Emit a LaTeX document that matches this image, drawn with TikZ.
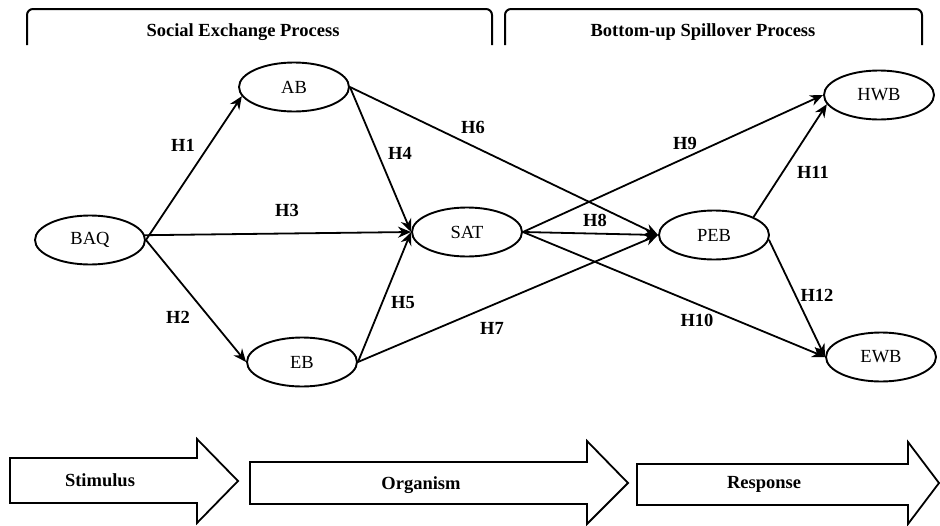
\documentclass[tikz,border=0pt]{standalone}
\usepackage{fontspec}
\setmainfont{Liberation Serif}
\usetikzlibrary{shapes.geometric,arrows.meta,calc}
\begin{document}
\begin{tikzpicture}[x=1pt,y=-1pt,
  var/.style={ellipse,draw,line width=1.9pt,minimum width=110pt,minimum height=49pt,inner sep=0pt,font=\fontsize{18.5}{20}\selectfont},
  hyp/.style={font=\bfseries\fontsize{18.5}{20}\selectfont,inner sep=0pt},
  ttl/.style={font=\bfseries\fontsize{18.5}{20}\selectfont,inner sep=0pt},
  link/.style={line width=1.8pt,-{Stealth[length=13pt,width=11pt]}},
  brk/.style={line width=2pt,rounded corners=6pt},
  bigarrow/.style={line width=1.8pt,fill=white}]
\useasboundingbox (0,0) rectangle (940,525);

% brackets
\draw[brk] (27,45) -- (27,9) -- (492,9) -- (492,45);
\draw[brk] (505,45) -- (505,9) -- (922,9) -- (922,45);
\node[ttl] (sep) at (243,32) {Social Exchange Process};
\node[ttl] (bsp) at (703,32) {Bottom-up Spillover Process};

% variables
\node[var] (BAQ) at (90,240) {BAQ};
\node[var] (AB) at (294,87) {AB};
\node[var] (EB) at (302,362) {EB};
\node[var] (SAT) at (467,232) {SAT};
\node[var] (PEB) at (714,235) {PEB};
\node[var] (HWB) at (879,95) {HWB};
\node[var] (EWB) at (881,357) {EWB};

% connectors
\draw[link] (BAQ.east) -- (AB.190);
\draw[link] (BAQ.5) -- (SAT.west);
\draw[link] (BAQ.east) -- (EB.west);
\draw[link] (AB.east) -- (SAT.west);
\draw[link] (EB.east) -- (SAT.west);
\draw[link] (AB.east) -- (PEB.west);
\draw[link] (EB.east) -- (PEB.west);
\draw[link] (SAT.east) -- (HWB.west);
\draw[link] (SAT.east) -- (PEB.west);
\draw[link] (SAT.east) -- (EWB.west);
\draw[link] (PEB.north east) -- (HWB.190);
\draw[link] (PEB.-5) -- (EWB.west);

% hypothesis labels
\node[hyp] (h1) at (183,145) {H1};
\node[hyp] (h2) at (178,317) {H2};
\node[hyp] (h3) at (287,210) {H3};
\node[hyp] (h4) at (400,153) {H4};
\node[hyp] (h5) at (403,303) {H5};
\node[hyp] (h6) at (473,127) {H6};
\node[hyp] (h7) at (492,328) {H7};
\node[hyp] (h8) at (595,220) {H8};
\node[hyp] (h9) at (685,143) {H9};
\node[hyp] (h10) at (697,320) {H10};
\node[hyp] (h11) at (813,172) {H11};
\node[hyp] (h12) at (817,295) {H12};

% S-O-R arrows
\draw[bigarrow] (10,458) -- (197,458) -- (197,439) -- (238,481) -- (197,523) -- (197,503) -- (10,503) -- cycle;
\draw[bigarrow] (250,462) -- (587,462) -- (587,441) -- (628,483) -- (587,524) -- (587,504) -- (250,504) -- cycle;
\draw[bigarrow] (637,464) -- (908,464) -- (908,442) -- (939,483) -- (908,524) -- (908,505) -- (637,505) -- cycle;
\node[ttl] (stim) at (100,480) {Stimulus};
\node[ttl] (org) at (421,485) {Organism};
\node[ttl] (resp) at (764,484) {Response};
\end{tikzpicture}
\end{document}
